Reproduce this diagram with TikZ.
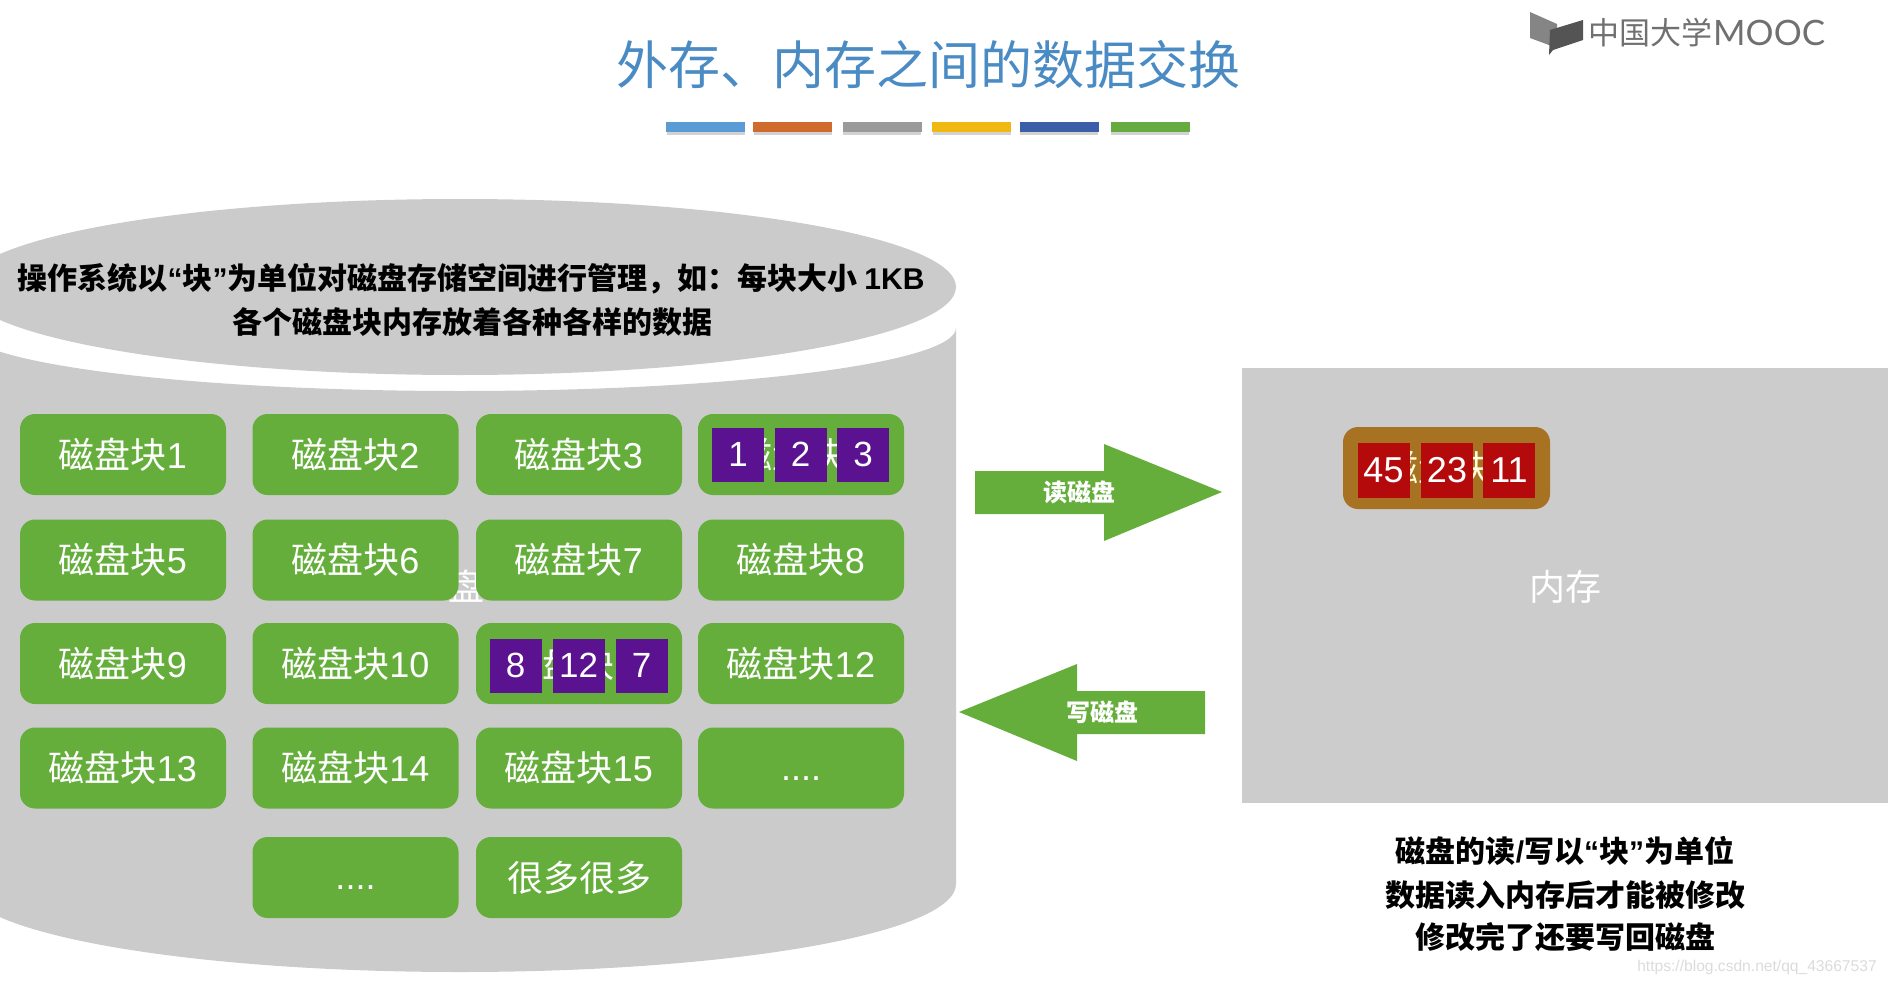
\documentclass[tikz,border=0pt]{standalone}
\usepackage{fontspec}
\setmainfont{Liberation Sans}
\newfontfamily\cjk{Noto Sans CJK SC}
\newfontfamily\lat{Liberation Sans}
\newfontfamily\lato{Lato}
\newcommand{\fsz}[1]{\fontsize{#1}{#1}\selectfont}
\newcommand{\blk}[1]{{\cjk 磁盘块}#1}
\newcommand{\lqm}{{\lat “}}
\newcommand{\rqm}{{\lat ”}}
\definecolor{diskgray}{HTML}{CBCBCB}
\definecolor{memgray}{HTML}{CCCCCC}
\definecolor{blockgreen}{HTML}{65AE3C}
\definecolor{datapurple}{HTML}{5A1291}
\definecolor{datared}{HTML}{B50A0C}
\definecolor{memblock}{HTML}{A87223}
\definecolor{titleblue}{HTML}{4A8BC4}
\definecolor{logogray}{HTML}{707070}
\tikzset{
  blockbox/.style={fill=blockgreen,rounded corners=15pt,minimum width=206pt,minimum height=81pt,inner sep=0pt,text=white,font=\fsz{36}},
  purplebox/.style={fill=datapurple,minimum width=52pt,minimum height=54pt,inner sep=0pt,text=white,font=\fsz{35}},
  redbox/.style={fill=datared,minimum width=52pt,minimum height=55pt,inner sep=0pt,text=white,font=\fsz{36}},
  notetext/.style={inner sep=0pt,text=black,font=\cjk\bfseries\fsz{30}},
  arrowlabel/.style={inner sep=0pt,text=white,font=\cjk\bfseries\fsz{24}},
  arrowshape/.style={fill=blockgreen},
  colorbar/.style={minimum width=79pt,minimum height=10pt,inner sep=0pt}
}
\begin{document}
\begin{tikzpicture}[x=1pt,y=-1pt]
\useasboundingbox (0,0) rectangle (1888,985);
\clip (0,0) rectangle (1888,985);
% title
\node[inner sep=0pt,text=titleblue,font=\cjk\fsz{52}] (title) at (928,65) {外存、内存之间的数据交换};
% colour bars
\foreach \cx/\col [count=\i] in {705.5/5B9BD5,792.5/CF6B2D,882/9A9A9A,971.5/F0B912,1059/3B5EA8,1150/66AB3F}{
  \definecolor{barc}{HTML}{\col}
  \fill[gray!35] (\cx-39,132) rectangle (\cx+39,135);
  \node[colorbar,fill=barc] (bar\i) at (\cx,127) {};
}
% logo
\fill[logogray!85] (1530,12) -- (1557,24) -- (1557,48) -- (1530,38) -- cycle;
\fill[logogray!75!black] (1550,30) -- (1583,20) -- (1583,40) -- (1553,50) -- (1549,55) -- cycle;
\node[inner sep=0pt,anchor=west,text=logogray,font=\cjk\fsz{31}] (logo) at (1588,33) {中国大学};
\node[inner sep=0pt,anchor=west,text=logogray,font=\lato\fsz{35}] (mooc) at (1713,33) {MOOC};
% disk cylinder
\fill[diskgray] (956,328) -- (956,884)
  .. controls (956,933) and (734,972) .. (460,972)
  .. controls (186,972) and (-36,933) .. (-36,884)
  -- (-36,328)
  .. controls (-36,363) and (186,391) .. (460,391)
  .. controls (734,391) and (956,363) .. (956,328) -- cycle;
\fill[diskgray] (460,287) ellipse [x radius=496pt,y radius=88pt];
\node[notetext] (disknote1) at (471,279) {操作系统以\lqm 块\rqm 为单位对磁盘存储空间进行管理，如：每块大小 {\lat 1KB}};
\node[notetext] (disknote2) at (472,322) {各个磁盘块内存放着各种各样的数据};
% stray text fragment behind the blocks
\node[inner sep=0pt,text=white,font=\cjk\fsz{36}] (stray) at (466,586) {盘};
% disk blocks
\node[blockbox] (b1) at (123,454.5) {\blk{1}};
\node[blockbox] (b2) at (355.5,454.5) {\blk{2}};
\node[blockbox] (b3) at (579,454.5) {\blk{3}};
\node[blockbox] (b4) at (801,454.5) {\blk{4}};
\node[blockbox] (b5) at (123,560) {\blk{5}};
\node[blockbox] (b6) at (355.5,560) {\blk{6}};
\node[blockbox] (b7) at (579,560) {\blk{7}};
\node[blockbox] (b8) at (801,560) {\blk{8}};
\node[blockbox] (b9) at (123,663.5) {\blk{9}};
\node[blockbox] (b10) at (355.5,663.5) {\blk{10}};
\node[blockbox] (b11) at (579,663.5) {\blk{11}};
\node[blockbox] (b12) at (801,663.5) {\blk{12}};
\node[blockbox] (b13) at (123,768) {\blk{13}};
\node[blockbox] (b14) at (355.5,768) {\blk{14}};
\node[blockbox] (b15) at (579,768) {\blk{15}};
\node[blockbox] (b16) at (801,768) {\vphantom{1}....};
\node[blockbox] (b17) at (355.5,877.5) {\vphantom{1}....};
\node[blockbox] (b18) at (579,877.5) {{\cjk 很多很多}};
% purple data
\node[purplebox] (p1) at (738,454.5) {1};
\node[purplebox] (p2) at (800.5,454.5) {2};
\node[purplebox] (p3) at (863,454.5) {3};
\node[purplebox] (p8) at (515.5,665.5) {8};
\node[purplebox] (p12) at (578.5,665.5) {12};
\node[purplebox] (p7) at (641.5,665.5) {7};
% memory
\fill[memgray] (1242,368) rectangle (1888,803);
\node[inner sep=0pt,text=white,font=\cjk\fsz{36}] (memlabel) at (1565,587) {内存};
\node[blockbox,fill=memblock,text=white!85!yellow,minimum width=207pt,minimum height=82pt] (m1) at (1446.5,468) {\blk{4}};
\node[redbox] (r45) at (1383.5,470.5) {45};
\node[redbox] (r23) at (1447,470.5) {23};
\node[redbox] (r11) at (1509,470.5) {11};
% arrows
\fill[arrowshape] (975,471) -- (1104,471) -- (1104,444) -- (1222,492) -- (1104,541) -- (1104,514) -- (975,514) -- cycle;
\node[arrowlabel] (readlabel) at (1079,492) {读磁盘};
\fill[arrowshape] (1205,691) -- (1077,691) -- (1077,664) -- (959,712) -- (1077,761) -- (1077,734) -- (1205,734) -- cycle;
\node[arrowlabel] (writelabel) at (1102,712) {写磁盘};
% note
\node[notetext] (note1) at (1565,851) {磁盘的读{\lat /}写以\lqm 块\rqm 为单位};
\node[notetext] (note2) at (1565,895) {数据读入内存后才能被修改};
\node[notetext] (note3) at (1565,937) {修改完了还要写回磁盘};
% watermark
\node[inner sep=0pt,text=black!14,font=\fsz{15.6}] (mark) at (1757,967) {https://blog.csdn.net/qq\_43667537};
\end{tikzpicture}
\end{document}
